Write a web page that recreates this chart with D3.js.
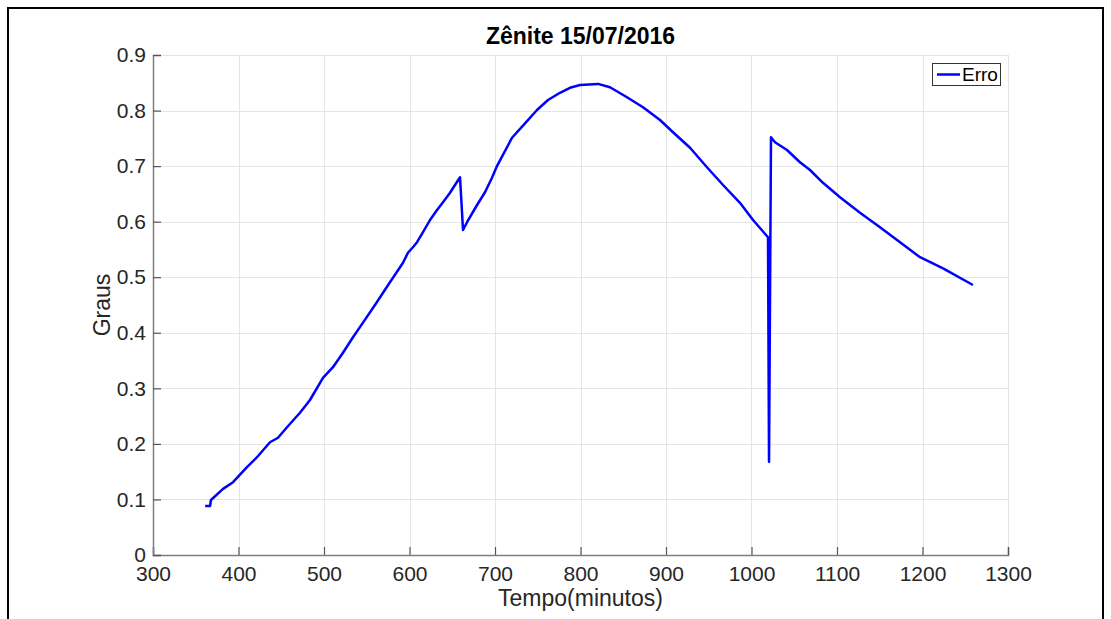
<!DOCTYPE html>
<html>
<head>
<meta charset="utf-8">
<script src="https://cdn.jsdelivr.net/npm/d3@7"></script>
<style>
  html, body { margin: 0; padding: 0; background: #fff; }
  svg { display: block; }
  text { font-family: "Liberation Sans", Arial, Helvetica, sans-serif; }
</style>
</head>
<body>
<svg id="chart" width="1111" height="619"></svg>
<script>
// Zenith pointing error over the day (minutes since midnight, degrees)
const minutes = [
  361, 366.7, 367.8, 381.9, 393.6, 409.9, 421.6, 436.8, 446.2, 456.7,
  471.9, 483.6, 498.8, 510.5, 522.2, 533.9, 545, 560, 575, 588.9,
  592.4, 598.2, 604.0, 608.8, 615.8, 624, 632.2, 639.2, 647.4, 653.2,
  659.1, 662.6, 667.3, 679.0, 688.3, 696.5, 702.3, 719.9, 735.1, 749.1,
  762, 776, 787.7, 799.4, 820.5, 834.5, 854.4, 873.1, 893, 908.2,
  928.1, 947.9, 966.7, 986.5, 1001.8, 1019.3, 1020.5, 1022.8, 1027.5, 1041.5,
  1056.7, 1068.4, 1083.6, 1103.5, 1126.9, 1150.3, 1170.2, 1197.1, 1224, 1259
];
const erro = [
  0.088, 0.088, 0.099, 0.119, 0.131, 0.158, 0.176, 0.203, 0.211, 0.230,
  0.256, 0.279, 0.319, 0.338, 0.364, 0.392, 0.417, 0.451, 0.486, 0.518,
  0.526, 0.544, 0.554, 0.563, 0.581, 0.603, 0.621, 0.635, 0.652, 0.666,
  0.680, 0.585, 0.599, 0.630, 0.653, 0.679, 0.700, 0.751, 0.777, 0.801,
  0.819, 0.832, 0.841, 0.846, 0.848, 0.842, 0.824, 0.806, 0.783, 0.761,
  0.733, 0.698, 0.666, 0.634, 0.603, 0.572, 0.168, 0.752, 0.743, 0.729,
  0.707, 0.693, 0.670, 0.644, 0.616, 0.590, 0.567, 0.536, 0.516, 0.486
];
const xTicks = [300, 400, 500, 600, 700, 800, 900, 1000, 1100, 1200, 1300];
const yTicks = [0, 0.1, 0.2, 0.3, 0.4, 0.5, 0.6, 0.7, 0.8, 0.9];
const titleText = "Zênite 15/07/2016";
const xLabel = "Tempo(minutos)";
const yLabel = "Graus";
const seriesName = "Erro";

const svg = d3.select("#chart");
const W = 1111, H = 619;
const plot = { left: 153, right: 1008, top: 55, bottom: 555 };

// outer figure frame
svg.append("rect").attr("x", 8).attr("y", 8).attr("width", W - 16).attr("height", H + 20)
  .attr("fill", "none").attr("stroke", "#000").attr("stroke-width", 2);

const x = d3.scaleLinear().domain([300, 1300]).range([plot.left, plot.right]);
const y = d3.scaleLinear().domain([0, 0.9]).range([plot.bottom, plot.top]);

// grid
const grid = svg.append("g").attr("stroke", "#e5e5e5").attr("stroke-width", 1);
xTicks.forEach(t => grid.append("line")
  .attr("x1", Math.round(x(t)) + 0.5).attr("x2", Math.round(x(t)) + 0.5)
  .attr("y1", plot.top).attr("y2", plot.bottom));
yTicks.forEach(t => grid.append("line")
  .attr("x1", plot.left).attr("x2", plot.right)
  .attr("y1", Math.round(y(t)) + 0.5).attr("y2", Math.round(y(t)) + 0.5));

// axes (ticks point inward)
const xAxis = d3.axisBottom(x).tickValues(xTicks).tickSize(-8).tickPadding(11).tickFormat(d3.format("d"));
const yAxis = d3.axisLeft(y).tickValues(yTicks).tickSize(-8).tickPadding(7).tickFormat(d => d === 0 ? "0" : d3.format(".1f")(d));

const gx = svg.append("g").attr("transform", `translate(0,${plot.bottom})`).call(xAxis);
const gy = svg.append("g").attr("transform", `translate(${plot.left},0)`).call(yAxis);
[gx, gy].forEach(g => {
  g.select(".domain").attr("stroke", "#7f7f7f").attr("stroke-width", 1.5);
  g.selectAll(".tick line").attr("stroke", "#555").attr("stroke-width", 1.2);
  g.selectAll(".tick text").attr("fill", "#262626").attr("font-size", 21)
    .attr("font-family", "'Liberation Sans', Arial, sans-serif");
});
gy.selectAll(".tick text").attr("dy", "0.32em");

// data line
const line = d3.line().x((d, i) => x(minutes[i])).y((d, i) => y(erro[i]));
svg.append("path").datum(erro).attr("d", line)
  .attr("fill", "none").attr("stroke", "#0000ff").attr("stroke-width", 2.5)
  .attr("stroke-linejoin", "round");

// title and axis labels
svg.append("text").attr("x", (plot.left + plot.right) / 2).attr("y", 44)
  .attr("text-anchor", "middle").attr("font-size", 23).attr("font-weight", "bold")
  .attr("fill", "#000").text(titleText);
svg.append("text").attr("x", (plot.left + plot.right) / 2).attr("y", 606)
  .attr("text-anchor", "middle").attr("font-size", 23).attr("fill", "#262626").text(xLabel);
svg.append("text").attr("transform", `translate(110,${(plot.top + plot.bottom) / 2}) rotate(-90)`)
  .attr("text-anchor", "middle").attr("font-size", 23).attr("fill", "#262626").text(yLabel);

// legend
const lg = svg.append("g");
lg.append("rect").attr("x", 932.5).attr("y", 63.5).attr("width", 68).attr("height", 22)
  .attr("fill", "#fff").attr("stroke", "#333").attr("stroke-width", 1);
lg.append("line").attr("x1", 937).attr("x2", 960).attr("y1", 74.5).attr("y2", 74.5)
  .attr("stroke", "#0000ff").attr("stroke-width", 2.5);
lg.append("text").attr("x", 962).attr("y", 81).attr("font-size", 19).attr("fill", "#000").text(seriesName);
</script>
</body>
</html>
